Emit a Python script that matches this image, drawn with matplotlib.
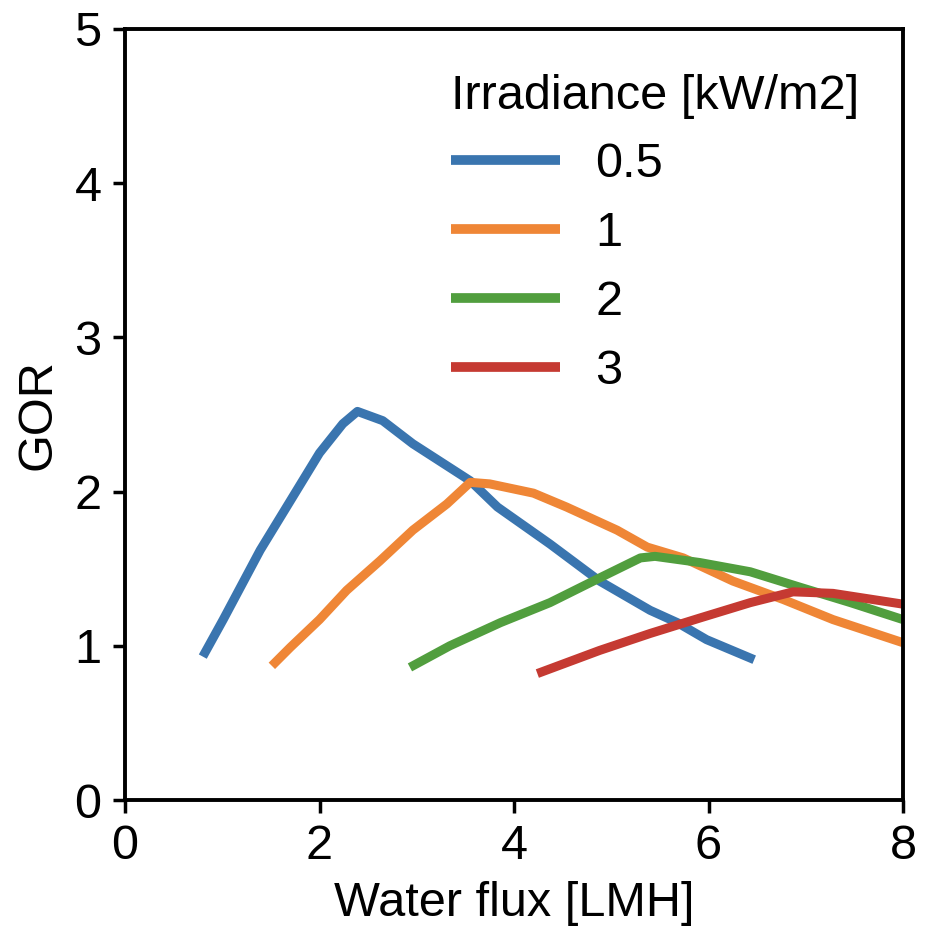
import matplotlib
matplotlib.use("Agg")
import matplotlib.pyplot as plt

plt.rcParams['font.family'] = ['Liberation Sans', 'DejaVu Sans']

irradiance_labels = ["0.5", "1", "2", "3"]
colors = ["#3a75af", "#ef8636", "#519e3e", "#c53a32"]

flux_05 = [0.80, 1.01, 1.39, 1.70, 2.00, 2.24, 2.39, 2.65, 2.96, 3.55, 3.83, 4.37, 4.88, 5.40, 5.68, 5.98, 6.47]
gor_05  = [0.93, 1.17, 1.62, 1.94, 2.25, 2.44, 2.52, 2.46, 2.31, 2.07, 1.90, 1.66, 1.42, 1.23, 1.15, 1.04, 0.91]

flux_1 = [1.51, 1.70, 2.00, 2.28, 2.62, 2.96, 3.31, 3.55, 3.75, 4.20, 4.54, 5.06, 5.37, 5.74, 6.25, 6.77, 7.28, 8.00]
gor_1  = [0.87, 0.99, 1.17, 1.36, 1.55, 1.75, 1.92, 2.06, 2.05, 1.99, 1.90, 1.75, 1.64, 1.57, 1.42, 1.30, 1.17, 1.02]

flux_2 = [2.93, 3.34, 3.86, 4.37, 4.88, 5.30, 5.45, 5.91, 6.43, 6.94, 7.46, 8.00]
gor_2  = [0.86, 1.00, 1.15, 1.28, 1.44, 1.57, 1.58, 1.54, 1.48, 1.38, 1.28, 1.17]

flux_3 = [4.24, 4.88, 5.40, 5.91, 6.43, 6.87, 7.28, 8.00]
gor_3  = [0.82, 0.97, 1.08, 1.18, 1.28, 1.35, 1.34, 1.27]

series = [(flux_05, gor_05), (flux_1, gor_1), (flux_2, gor_2), (flux_3, gor_3)]

FS = 35

fig = plt.figure(figsize=(9.32, 9.30), dpi=100)
ax = fig.add_axes([125/932, 1 - 800/930, (903-125)/932, (800-29)/930])

for (x, y), c, lab in zip(series, colors, irradiance_labels):
    ax.plot(x, y, color=c, lw=6.5, label=lab, solid_capstyle='butt')

ax.set_xlim(0, 8)
ax.set_ylim(0, 5)
ax.set_xticks([0, 2, 4, 6, 8])
ax.set_yticks([0, 1, 2, 3, 4, 5])
ax.set_xlabel("Water flux [LMH]", fontsize=FS, labelpad=9)
ax.set_ylabel("GOR", fontsize=FS, labelpad=10)
ax.tick_params(labelsize=FS, length=9, width=2.5, pad=8, direction='out')
for s in ax.spines.values():
    s.set_linewidth(2.8)

leg = ax.legend(title="Irradiance [kW/m2]", frameon=False, fontsize=FS,
                title_fontsize=FS, loc='upper right', bbox_to_anchor=(1.0, 0.999),
                handlelength=2.25, handletextpad=0.72, labelspacing=0.49,
                borderaxespad=0.5, alignment='left')
for h in leg.get_lines():
    h.set_linewidth(7)

fig.savefig("out.png", dpi=100)
